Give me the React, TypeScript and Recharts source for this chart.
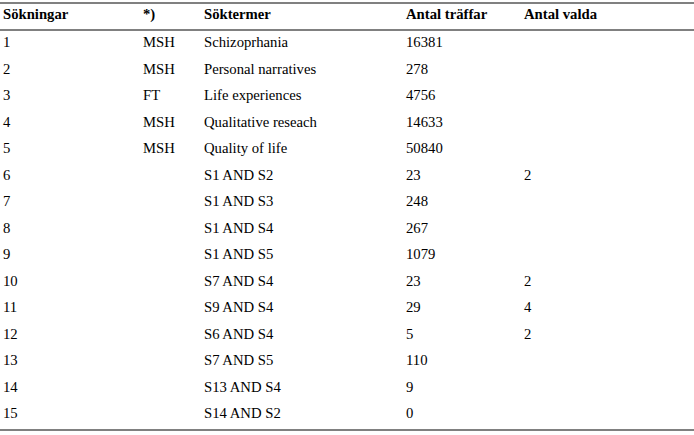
import React from 'react';
import { ScatterChart, Scatter, XAxis, YAxis } from 'recharts';

// ---- table content ----
const headers = ['Sökningar', '*)', 'Söktermer', 'Antal träffar', 'Antal valda'];
const searchNo = [1, 2, 3, 4, 5, 6, 7, 8, 9, 10, 11, 12, 13, 14, 15];
const sources = ['MSH', 'MSH', 'FT', 'MSH', 'MSH', '', '', '', '', '', '', '', '', '', ''];
const terms = [
  'Schizoprhania',
  'Personal narratives',
  'Life experiences',
  'Qualitative reseach',
  'Quality of life',
  'S1 AND S2',
  'S1 AND S3',
  'S1 AND S4',
  'S1 AND S5',
  'S7 AND S4',
  'S9 AND S4',
  'S6 AND S4',
  'S7 AND S5',
  'S13 AND S4',
  'S14 AND S2',
];
const hits = [16381, 278, 4756, 14633, 50840, 23, 248, 267, 1079, 23, 29, 5, 110, 9, 0];
const selected: (number | null)[] = [null, null, null, null, null, 2, null, null, null, 2, 4, 2, null, null, null];

// ---- layout / style ----
const W = 694;
const H = 435;
const COL_X = [3, 143, 204, 406, 524];
const ROW_DOMAIN: [number, number] = [0.55, 15.64];
const FONT = '"Liberation Serif", "Times New Roman", Times, serif';
const FONT_SIZE = 14.7;
const RULE = '#808080';
const RULE_W = 2;
const TOP_MARGIN = 4; // space above the header band, holding the top rule
const HEADER_H = 26;

const columns: any[][] = [searchNo, sources, terms, hits, selected];
const cellData = columns.map((col, c) =>
  searchNo
    .map((n, i) => ({ x: COL_X[c], row: n, text: col[i] == null ? '' : String(col[i]) }))
    .filter((d) => d.text !== '')
);

const textStyle: React.CSSProperties = { fontFamily: FONT, fontSize: FONT_SIZE };

const CellText = (props: any) => (
  <text x={props.cx} y={props.cy} dy="0.35em" style={textStyle} fill="#000" textAnchor="start">
    {props.payload.text}
  </text>
);

const HeaderTick = (props: any) => (
  <text
    x={props.x}
    y={props.y}
    dy={-11}
    style={{ ...textStyle, fontWeight: 'bold' }}
    fill="#000"
    textAnchor="start"
  >
    {headers[props.index]}
  </text>
);

export default function App() {
  return (
    <div style={{ position: 'absolute', left: 0, top: 0, width: W, height: H, background: '#fff', fontFamily: FONT }}>
      {/* top rule of the table */}
      <div
        style={{
          position: 'absolute',
          left: 0,
          top: TOP_MARGIN - RULE_W - 0.5,
          width: W,
          height: RULE_W,
          background: RULE,
        }}
      />
      <ScatterChart width={W} height={H} margin={{ top: TOP_MARGIN, right: 0, bottom: 0, left: 0 }}>
        <XAxis
          xAxisId="head"
          type="number"
          dataKey="x"
          orientation="top"
          domain={[0, W]}
          ticks={COL_X}
          interval={0}
          height={HEADER_H}
          tickSize={0}
          tickMargin={0}
          tickLine={false}
          axisLine={{ stroke: RULE, strokeWidth: RULE_W }}
          tick={<HeaderTick />}
        />
        <XAxis
          xAxisId="bottom"
          type="number"
          orientation="bottom"
          domain={[0, W]}
          height={5}
          tick={false}
          tickLine={false}
          axisLine={{ stroke: RULE, strokeWidth: RULE_W }}
        />
        <YAxis
          yAxisId="rows"
          type="number"
          dataKey="row"
          domain={ROW_DOMAIN}
          allowDataOverflow
          reversed
          hide
        />
        {cellData.map((d, c) => (
          <Scatter
            key={headers[c]}
            name={headers[c]}
            data={d}
            xAxisId="head"
            yAxisId="rows"
            shape={<CellText />}
            isAnimationActive={false}
          />
        ))}
      </ScatterChart>
    </div>
  );
}
